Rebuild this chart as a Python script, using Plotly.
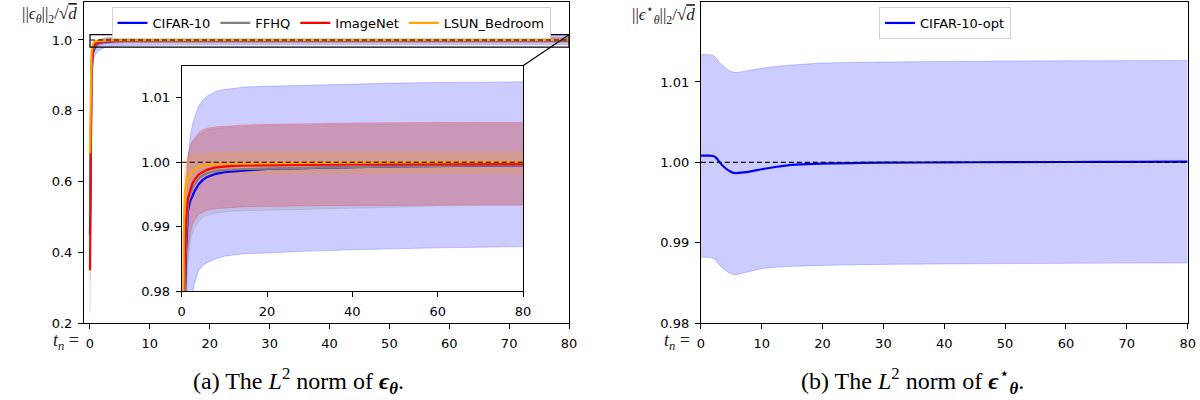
import plotly.graph_objects as go

# ---------------- data ----------------
T = [0, 0.25, 0.5, 0.75, 1, 1.5, 2, 2.5, 3, 4, 5, 6, 8, 10, 12, 15, 20, 25, 30, 40, 50, 60, 70, 80]

CIFAR_MEAN = [0.45, 0.90, 0.965, 0.978, 0.986, 0.9925, 0.9940, 0.9947, 0.9955, 0.9966, 0.9973, 0.9977, 0.9982,
              0.99845, 0.9986, 0.99875, 0.99895, 0.99905, 0.9991, 0.99925, 0.99935, 0.99943, 0.9995, 0.99953]
CIFAR_LO = [0.40, 0.85, 0.945, 0.955, 0.962, 0.970, 0.975, 0.979, 0.9812, 0.9832, 0.9840, 0.9844, 0.9850,
            0.9854, 0.9856, 0.9858, 0.9859, 0.9861, 0.9862, 0.9864, 0.9866, 0.9867, 0.9868, 0.9869]
CIFAR_HI = [0.50, 0.93, 0.975, 0.985, 0.992, 1.0005, 1.0040, 1.0058, 1.0070, 1.0087, 1.0097, 1.0103, 1.0110,
            1.0113, 1.0115, 1.0117, 1.0118, 1.0119, 1.0120, 1.0122, 1.0123, 1.0124, 1.0125, 1.0125]

FFHQ_MEAN = [0.50, 0.91, 0.970, 0.981, 0.988, 0.9935, 0.9952, 0.9960, 0.9966, 0.9975, 0.9980, 0.9983, 0.99865,
             0.9988, 0.9989, 0.99895, 0.9990, 0.99908, 0.99915, 0.99927, 0.99937, 0.99945, 0.9995, 0.99955]
FFHQ_LO = [0.32, 0.86, 0.955, 0.970, 0.978, 0.9845, 0.9875, 0.9890, 0.9898, 0.9908, 0.9914, 0.9918, 0.9921,
           0.9923, 0.9924, 0.9925, 0.9925, 0.9926, 0.9927, 0.9929, 0.9931, 0.9932, 0.9933, 0.9933]
FFHQ_HI = [0.62, 0.95, 0.983, 0.991, 0.997, 1.0010, 1.0025, 1.0032, 1.0036, 1.0043, 1.0047, 1.0050, 1.0053,
           1.0054, 1.0055, 1.0056, 1.0057, 1.0057, 1.0058, 1.0059, 1.0059, 1.0060, 1.0060, 1.0060]

IMNET_MEAN = [0.35, 0.93, 0.980, 0.987, 0.991, 0.9945, 0.9958, 0.9967, 0.9973, 0.9981, 0.9985, 0.99886, 0.9992,
              0.99935, 0.99945, 0.9995, 0.99955, 0.99958, 0.9996, 0.99965, 0.99968, 0.9997, 0.9997, 0.9997]
IMNET_LO = [0.23, 0.88, 0.966, 0.976, 0.981, 0.9865, 0.9890, 0.9903, 0.9910, 0.9919, 0.9923, 0.9926, 0.9928,
            0.9929, 0.9930, 0.9931, 0.99315, 0.9932, 0.9932, 0.9933, 0.9933, 0.9934, 0.9934, 0.9934]
IMNET_HI = [0.47, 0.97, 0.992, 0.996, 0.9985, 1.0012, 1.0025, 1.0033, 1.0038, 1.0046, 1.0051, 1.0053, 1.0055,
            1.0056, 1.0057, 1.0058, 1.0059, 1.0060, 1.0060, 1.0061, 1.0062, 1.0062, 1.0062, 1.0062]

LSUN_MEAN = [0.68, 0.965, 0.989, 0.9952, 0.9965, 0.9975, 0.9981, 0.9986, 0.9989, 0.99925, 0.9995, 0.9996, 0.99972,
             0.99977, 0.9998, 0.99983, 0.99986, 0.99988, 0.9999, 0.99995, 1.0, 1.0, 1.0, 1.0]
LSUN_LO = [0.64, 0.955, 0.983, 0.991, 0.9935, 0.9950, 0.9962, 0.9970, 0.9973, 0.9977, 0.9979, 0.9980, 0.99815,
           0.9982, 0.9982, 0.99825, 0.99828, 0.9983, 0.9983, 0.99833, 0.99835, 0.99835, 0.99835, 0.99835]
LSUN_HI = [0.72, 0.975, 0.995, 0.9995, 1.0005, 1.0008, 1.0010, 1.0011, 1.0012, 1.0013, 1.0014, 1.0015, 1.0015,
           1.0016, 1.0016, 1.0016, 1.0016, 1.0016, 1.0016, 1.0016, 1.0016, 1.0016, 1.0016, 1.0016]

T_OPT = [0, 1, 2, 2.5, 3, 4, 5, 5.5, 6, 7, 8, 10, 12, 15, 20, 25, 30, 40, 50, 60, 70, 80]
OPT_MEAN = [1.00083, 1.00083, 1.0008, 1.0006, 1.0001, 0.9993, 0.99880, 0.99868, 0.99868, 0.99875, 0.99885,
            0.99915, 0.9994, 0.9997, 0.99984, 0.99992, 0.99996, 1.0, 1.00003, 1.00005, 1.00007, 1.00009]
OPT_HI = [1.0134, 1.0134, 1.0133, 1.0130, 1.0125, 1.0118, 1.0113, 1.0112, 1.0112, 1.0113, 1.01145, 1.0117,
          1.0119, 1.0121, 1.01234, 1.01243, 1.01248, 1.01255, 1.0126, 1.01263, 1.01265, 1.01267]
OPT_LO = [0.9882, 0.9882, 0.9881, 0.9878, 0.9873, 0.9866, 0.98615, 0.98605, 0.98607, 0.98625, 0.98643, 0.98679,
          0.98695, 0.98708, 0.98720, 0.98727, 0.98732, 0.98738, 0.98742, 0.98745, 0.98748, 0.9875]

REF_X = [0, 80]
REF_Y = [1.0, 1.0]

SERIES = [
    ("CIFAR-10", CIFAR_MEAN, CIFAR_LO, CIFAR_HI, (0, 0, 255)),
    ("FFHQ", FFHQ_MEAN, FFHQ_LO, FFHQ_HI, (128, 128, 128)),
    ("ImageNet", IMNET_MEAN, IMNET_LO, IMNET_HI, (255, 0, 0)),
    ("LSUN_Bedroom", LSUN_MEAN, LSUN_LO, LSUN_HI, (255, 165, 0)),
]

# ---------------- layout geometry (pixels of a 1200x400 canvas) ----------------
W, H = 1200, 400
def fx(p): return p / W
def fy(p): return 1 - p / H

MAIN_X = [fx(84), fx(569)]
MAIN_Y = [fy(323.3), fy(1.5)]
INS_X = [fx(181.7), fx(523)]
INS_Y = [fy(291), fy(65.7)]
RIGHT_X = [fx(700.8), fx(1187.7)]
RIGHT_Y = MAIN_Y

MAIN_XR = [-1, 80]
MAIN_YR = [0.2, 1.1087]
INS_XR = [0, 80]
INS_YR = [0.98, 1.015]
RIGHT_XR = [0, 80]
RIGHT_YR = [0.98, 1.02]

TICKFONT = dict(family="DejaVu Sans", size=13, color="black")

fig = go.Figure()

def rgba(c, a):
    return "rgba(%d,%d,%d,%s)" % (c[0], c[1], c[2], a)

def add_panel(xa, ya, show_legend):
    for name, mean, lo, hi, c in SERIES:
        fig.add_trace(go.Scatter(x=T, y=lo, xaxis=xa, yaxis=ya, mode="lines",
                                 line=dict(color=rgba(c, 0.25), width=0.8), showlegend=False,
                                 hoverinfo="skip"))
        fig.add_trace(go.Scatter(x=T, y=hi, xaxis=xa, yaxis=ya, mode="lines", fill="tonexty",
                                 fillcolor=rgba(c, 0.2), line=dict(color=rgba(c, 0.25), width=0.8),
                                 showlegend=False, hoverinfo="skip"))
    for name, mean, lo, hi, c in SERIES:
        fig.add_trace(go.Scatter(x=T, y=mean, xaxis=xa, yaxis=ya, mode="lines", name=name,
                                 line=dict(color=rgba(c, 1), width=2.2), showlegend=show_legend,
                                 legend="legend"))
    fig.add_trace(go.Scatter(x=REF_X, y=REF_Y, xaxis=xa, yaxis=ya, mode="lines",
                             line=dict(color="black", width=1.2, dash="5px,3px"), showlegend=False))

add_panel("x", "y", True)
add_panel("x2", "y2", False)

# right panel
c = (0, 0, 255)
fig.add_trace(go.Scatter(x=T_OPT, y=OPT_LO, xaxis="x3", yaxis="y3", mode="lines", line_shape="spline",
                         line=dict(color=rgba(c, 0.25), width=0.8), showlegend=False, hoverinfo="skip"))
fig.add_trace(go.Scatter(x=T_OPT, y=OPT_HI, xaxis="x3", yaxis="y3", mode="lines", line_shape="spline",
                         fill="tonexty", fillcolor=rgba(c, 0.2),
                         line=dict(color=rgba(c, 0.25), width=0.8), showlegend=False, hoverinfo="skip"))
fig.add_trace(go.Scatter(x=T_OPT, y=OPT_MEAN, xaxis="x3", yaxis="y3", mode="lines", line_shape="spline",
                         name="CIFAR-10-opt", line=dict(color="blue", width=2.2), legend="legend2"))
fig.add_trace(go.Scatter(x=REF_X, y=REF_Y, xaxis="x3", yaxis="y3", mode="lines",
                         line=dict(color="black", width=1.2, dash="5px,3px"), showlegend=False))

axis_common = dict(showgrid=False, zeroline=False, showline=True, mirror=True, linecolor="black",
                   linewidth=1, ticks="outside", ticklen=5, tickwidth=1, tickcolor="black",
                   tickfont=TICKFONT, ticklabelstandoff=3, automargin=False)

fig.update_layout(
    width=W, height=H, autosize=False,
    margin=dict(l=0, r=0, t=0, b=0, pad=0),
    paper_bgcolor="white", plot_bgcolor="rgba(0,0,0,0)",
    xaxis=dict(domain=MAIN_X, range=MAIN_XR, anchor="y", tickvals=list(range(0, 81, 10)), **axis_common),
    yaxis=dict(domain=MAIN_Y, range=MAIN_YR, anchor="x", tickvals=[0.2, 0.4, 0.6, 0.8, 1.0],
               tickformat=".1f", **axis_common),
    xaxis2=dict(domain=INS_X, range=INS_XR, anchor="y2", tickvals=[0, 20, 40, 60, 80], **axis_common),
    yaxis2=dict(domain=INS_Y, range=INS_YR, anchor="x2", tickvals=[0.98, 0.99, 1.00, 1.01],
                tickformat=".2f", **axis_common),
    xaxis3=dict(domain=RIGHT_X, range=RIGHT_XR, anchor="y3", tickvals=list(range(0, 81, 10)), **axis_common),
    yaxis3=dict(domain=RIGHT_Y, range=RIGHT_YR, anchor="x3", tickvals=[0.98, 0.99, 1.00, 1.01],
                tickformat=".2f", **axis_common),
    legend=dict(orientation="h", x=fx(111.5), y=fy(7), xanchor="left", yanchor="top", traceorder="normal",
                bgcolor="white", bordercolor="#d0d0d0", borderwidth=1,
                font=dict(family="DejaVu Sans", size=13, color="black"), tracegroupgap=0),
    legend2=dict(orientation="h", x=fx(879), y=fy(7), xanchor="left", yanchor="top",
                 bgcolor="white", bordercolor="#d0d0d0", borderwidth=1,
                 font=dict(family="DejaVu Sans", size=13, color="black")),
)

# white background behind the inset
fig.add_shape(type="rect", xref="paper", yref="paper", x0=INS_X[0], x1=INS_X[1], y0=INS_Y[0], y1=INS_Y[1],
              fillcolor="white", line=dict(width=0), layer="below")

# zoom indicator rectangle on the main axes
fig.add_shape(type="rect", xref="x", yref="y", x0=INS_XR[0], x1=INS_XR[1], y0=INS_YR[0], y1=INS_YR[1],
              line=dict(color="black", width=1.2), layer="above")

# connector from inset top-right to the rectangle top-right
def main_paper_y(v):
    return MAIN_Y[0] + (v - MAIN_YR[0]) / (MAIN_YR[1] - MAIN_YR[0]) * (MAIN_Y[1] - MAIN_Y[0])
def main_paper_x(v):
    return MAIN_X[0] + (v - MAIN_XR[0]) / (MAIN_XR[1] - MAIN_XR[0]) * (MAIN_X[1] - MAIN_X[0])

fig.add_shape(type="line", xref="paper", yref="paper", x0=INS_X[1], y0=INS_Y[1],
              x1=main_paper_x(INS_XR[1]), y1=main_paper_y(INS_YR[1]), line=dict(color="black", width=1.2))

SERIF = "Liberation Serif"
ann = [
    dict(x=fx(79), y=fy(15), text="||<i>ϵ<sub>θ</sub></i>||<sub>2</sub>/√<span style='text-decoration:overline'><i>d</i></span>",
         xanchor="right", yanchor="middle", font=dict(family=SERIF, size=17, color="#222")),
    dict(x=fx(697), y=fy(15), text="||<i>ϵ</i><sup>⋆</sup><sub><i>θ</i></sub>||<sub>2</sub>/√<span style='text-decoration:overline'><i>d</i></span>",
         xanchor="right", yanchor="middle", font=dict(family=SERIF, size=17, color="#222")),
    dict(x=fx(81), y=fy(341), text="<i>t<sub>n</sub></i> =", xanchor="right", yanchor="middle",
         font=dict(family=SERIF, size=18, color="#222")),
    dict(x=fx(692), y=fy(341), text="<i>t<sub>n</sub></i> =", xanchor="right", yanchor="middle",
         font=dict(family=SERIF, size=18, color="#222")),
    dict(x=fx(298), y=fy(381), text="(a) The <i>L</i><sup>2</sup> norm of <b><i>ϵ</i></b><sub><b><i>θ</i></b></sub>.",
         xanchor="center", yanchor="middle", font=dict(family=SERIF, size=24, color="black")),
    dict(x=fx(912), y=fy(381), text="(b) The <i>L</i><sup>2</sup> norm of <b><i>ϵ</i></b><sup>⋆</sup><sub><b><i>θ</i></b></sub>.",
         xanchor="center", yanchor="middle", font=dict(family=SERIF, size=24, color="black")),
]
for a in ann:
    fig.add_annotation(xref="paper", yref="paper", showarrow=False, **a)

fig.write_html("out.html", config={"displayModeBar": False, "staticPlot": True},
               post_script="document.body.style.margin='0';document.body.style.overflow='hidden';")
